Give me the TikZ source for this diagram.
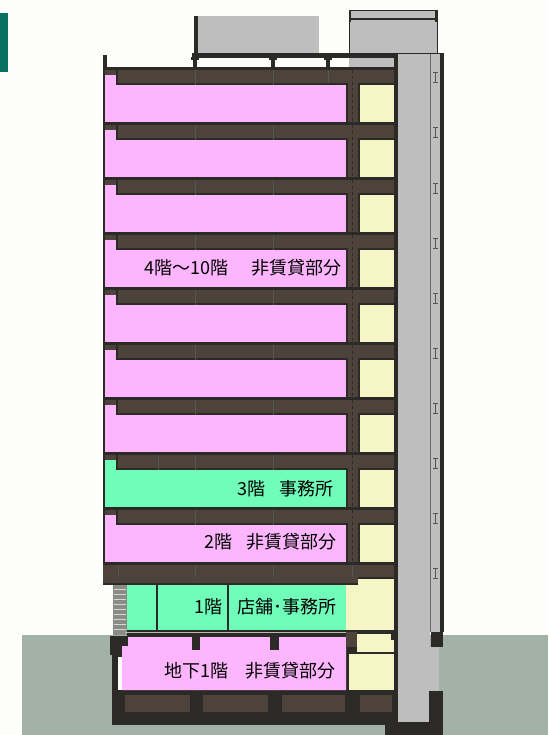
\documentclass[tikz,border=0pt]{standalone}
\usepackage{fontspec}
\setmainfont{Noto Sans CJK JP}
\definecolor{wallc}{HTML}{2B2A26}
\definecolor{slabc}{HTML}{4D433B}
\definecolor{pinkc}{HTML}{FDB6FD}
\definecolor{greenc}{HTML}{70FDBA}
\definecolor{yellowc}{HTML}{F5F5C6}
\definecolor{greyc}{HTML}{BEBEBE}
\definecolor{earthc}{HTML}{A3B2A6}
\definecolor{tealc}{HTML}{0A7060}
\definecolor{paperc}{HTML}{FDFDFB}
\definecolor{brickc}{HTML}{8C8C86}
\tikzset{
  wall/.style={fill=wallc, draw=none},
  slab/.style={fill=slabc, draw=none},
  label/.style={font=\fontsize{18}{18}\selectfont, text=black, inner sep=0pt, anchor=east},
  ibeam/.style={draw=wallc!80, line width=0.8pt},
  tick/.style={draw=wallc!80, line width=0.6pt}
}
\begin{document}
\begin{tikzpicture}[x=1pt, y=-1pt]
  \useasboundingbox (0,0) rectangle (548,735);
  \fill[paperc] (0,0) rectangle (548,735);
  \fill[tealc] (0,13) rectangle (8,72);
  \fill[earthc] (22,635) rectangle (548,735);

  % roof
  \fill[greyc] (194,16) rectangle (319,54);
  \fill[wall] (194,16) rectangle (198,54);
  \fill[greyc] (349,11) rectangle (437,54);
  \draw[wallc, line width=1pt] (349,54) -- (349,11) -- (437,11) -- (437,54);
  \fill[wall] (349,18) rectangle (437,20.5);
  \fill[wall] (349,11) rectangle (351,22);
  \fill[wall] (435,11) rectangle (437,22);
  \fill[wall] (192,53) rectangle (444,58);
  \foreach \x in {195,273,328} {
    \fill[wall] (\x-4,57) rectangle (\x+4,60);
    \fill[wall] (\x-2,60) rectangle (\x+2,68);
  }
  \fill[greyc] (349,58) rectangle (396,69);
  \fill[wall] (103,55) rectangle (107,69);

  % stair column and shaft
  \fill[wall] (394,53) rectangle (398,722);
  \fill[greyc] (398,54) rectangle (430,722);
  \fill[greyc] (431,54) rectangle (440,632);
  \fill[wallc!70] (430,54) rectangle (431,632);
  \fill[wall] (440,53) rectangle (444,632);
  \foreach \y in {72,127,183,238,293,348,403,458,513,568} {
    \draw[ibeam] (433,\y) -- (438,\y) (435.5,\y) -- (435.5,\y+10) (433,\y+10) -- (438,\y+10);
  }

  % floors
  \foreach \top/\col in {85/pinkc,140/pinkc,195/pinkc,250/pinkc,305/pinkc,360/pinkc,415/pinkc,470/greenc,525/pinkc} {
    \fill[\col] (105,\top-10) rectangle (116,\top+38);
    \fill[\col] (105,\top) rectangle (346,\top+38);
    \fill[yellowc] (360,\top) rectangle (394,\top+38);
    \fill[slab] (105,\top-18) rectangle (116,\top-10);
    \fill[slab] (116,\top-17) rectangle (394,\top);
    \fill[wall] (103,\top-18) rectangle (394,\top-15);
    \fill[wall] (116,\top-2) rectangle (346,\top);
    \fill[wall] (116,\top-17) rectangle (118,\top);
    \fill[wall] (360,\top-2) rectangle (394,\top);
    \fill[slab] (346,\top) rectangle (360,\top+38);
    \fill[wall] (346,\top-2) rectangle (348,\top+38);
    \fill[wall] (358,\top-2) rectangle (360,\top+38);
    \draw[wallc, line width=1pt, dashed] (352,\top-15) -- (352,\top+38);
    \fill[wall] (103,\top-18) rectangle (105,\top+38);
    \draw[tick] (195,\top-15) -- (195,\top);
    \draw[tick] (273,\top-15) -- (273,\top);
  }
  \draw[tick] (328,70) -- (328,83);
  \draw[tick] (158,455) -- (158,470);

  % slab over ground floor
  \fill[slab] (103,563) rectangle (358,584);
  \fill[slab] (358,563) rectangle (394,578);
  \fill[wall] (103,562) rectangle (394,565);
  \fill[wall] (103,583) rectangle (358,585);
  \fill[wall] (358,577) rectangle (394,579);
  \foreach \x in {118,195,273,352} {
    \draw[tick] (\x,565) -- (\x,577);
  }

  % ground floor
  \fill[greenc] (127,585) rectangle (346,631);
  \fill[yellowc] (346,585) rectangle (394,631);
  \fill[yellowc] (358,579) rectangle (394,585);
  \fill[brickc] (113,585) rectangle (127,635);
  \foreach \y in {589,594,...,633} {
    \draw[paperc!85!black, line width=1pt] (114,\y) -- (126,\y);
  }
  \draw[wallc, line width=1.4pt] (157,585) -- (157,631);
  \draw[wallc, line width=1.4pt] (228,585) -- (228,631);
  \fill[wall] (127,630) rectangle (394,634);
  \draw[brickc!60!white, line width=1pt] (125,632) -- (346,632);

  % basement
  \fill[wall] (112,637) rectangle (397,725);
  \fill[wall] (110,636) rectangle (128,655);
  \fill[wall] (127,633) rectangle (397,637);
  \fill[wall] (385,722) rectangle (443,735);
  \fill[wall] (431,632) rectangle (443,647);
  \fill[wall] (429,691) rectangle (443,725);
  \fill[greyc] (430,647) rectangle (439,691);
  \fill[pinkc] (128,637) -- (346,637) -- (346,690) -- (122,690) -- (122,646) -- (128,646) -- cycle;
  \fill[paperc] (118,657) rectangle (122,690);
  \fill[wall] (192,637) rectangle (200,650);
  \fill[wall] (270,637) rectangle (279,650);
  \fill[slab] (346,632) rectangle (357,647);
  \fill[yellowc] (357,634) rectangle (394,652);
  \fill[wall] (391,634) rectangle (394,640);
  \fill[yellowc] (349,654) rectangle (394,690);
  \foreach \xa/\xb in {125/190,203/268,282/345,360/392} {
    \fill[slabc] (\xa,695) rectangle (\xb,712);
  }

  % floor labels
  \node[label] (fourup) at (342,268) {4階～10階\hspace{1.3em}非賃貸部分};
  \node[label] (third) at (334,489) {3階\hspace{0.8em}事務所};
  \node[label] (second) at (337,542) {2階\hspace{0.8em}非賃貸部分};
  \node[label] (first) at (337,607) {1階\hspace{0.85em}店舗･事務所};
  \node[label] (base) at (336,671) {地下1階\hspace{0.95em}非賃貸部分};
\end{tikzpicture}
\end{document}
